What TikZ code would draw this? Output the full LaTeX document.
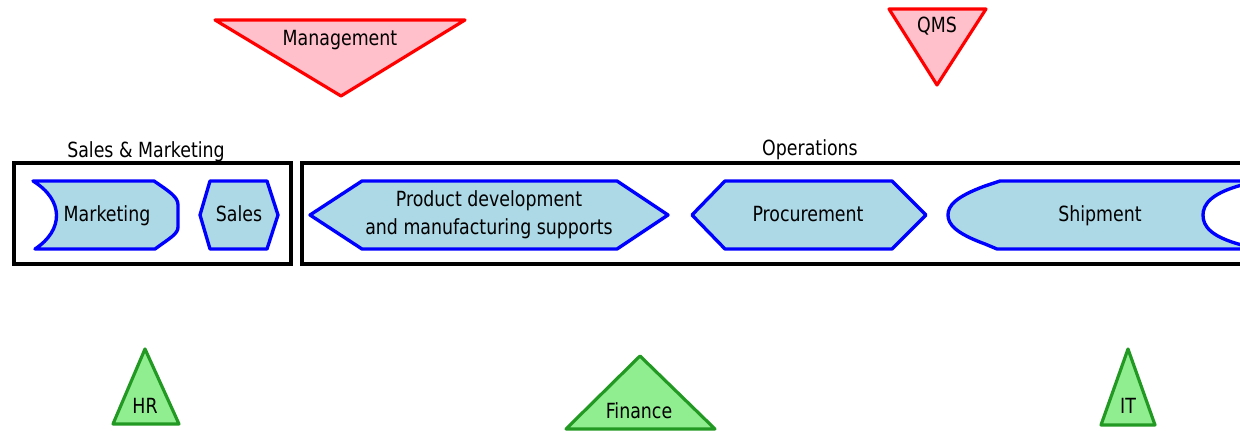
\documentclass[tikz,border=0pt]{standalone}
\usepackage{fontspec}
\setmainfont{DejaVu Sans Condensed}
\definecolor{procfill}{HTML}{ADD8E6}
\definecolor{ctrlfill}{HTML}{FFC0CB}
\definecolor{suppfill}{HTML}{90EE90}
\definecolor{suppline}{HTML}{229922}
\tikzstyle{proc}=[draw=blue, fill=procfill, line width=1.9pt, line join=round]
\tikzstyle{ctrl}=[draw=red, fill=ctrlfill, line width=1.8pt, line join=round]
\tikzstyle{supp}=[draw=suppline, fill=suppfill, line width=1.8pt, line join=round]
\tikzstyle{grp}=[draw=black, line width=2.7pt]
\tikzstyle{lbl}=[font=\fontsize{11}{15}\selectfont, align=center, inner sep=0pt, yscale=1.08]

\begin{document}
\begin{tikzpicture}[x=0.02cm, y=-0.02cm]
    \clip (0,0) rectangle (1240,431);
    \fill[white] (0,0) rectangle (1240,431);

    % control triangles
    \draw[ctrl] (215,20) -- (465,20) -- (341,96) -- cycle;
    \node[lbl, anchor=base] (mgmt) at (340,46) {Management};
    \draw[ctrl] (889,9) -- (986,9) -- (937,85) -- cycle;
    \node[lbl, anchor=base] (qms) at (937,33) {QMS};

    % groups
    \draw[grp] (14,163) rectangle (291,264);
    \node[lbl, anchor=base] (salesmkt) at (146,158) {Sales \& Marketing};
    \draw[grp] (302,163) rectangle (1270,264);
    \node[lbl, anchor=base] (ops) at (810,156) {Operations};

    % process steps
    \draw[proc] (33,181) -- (154,181) .. controls (170,192) and (178,197) .. (178,205) -- (178,227)
        .. controls (178,234) and (170,238) .. (155,249) -- (35,249)
        .. controls (64,230) and (64,200) .. (33,181) -- cycle;
    \node[lbl, anchor=base] (mkt) at (107,222) {Marketing};
    \draw[proc] (210,181) -- (267,181) -- (278,215) -- (267,249) -- (210,249) -- (200,215) -- cycle;
    \node[lbl, anchor=base] (sales) at (239,222) {Sales};
    \draw[proc] (362,181) -- (617,181) -- (668,215) -- (617,249) -- (362,249) -- (310,215) -- cycle;
    \node[lbl] (dev) at (489,215) {Product development\\and manufacturing supports};
    \draw[proc] (725,181) -- (892,181) -- (926,215) -- (892,249) -- (725,249) -- (692,215) -- cycle;
    \node[lbl, anchor=base] (proc) at (808,222) {Procurement};
    \draw[proc] (1000,181) -- (1260,181) -- (1260,183) -- (1250,183)
        .. controls (1210,192) and (1203,205) .. (1203,215)
        .. controls (1203,226) and (1210,238) .. (1250,247) -- (1260,247) -- (1260,249) -- (997,249)
        -- (985,244) .. controls (955,233) and (948,224) .. (948,215)
        .. controls (948,206) and (955,197) .. (985,186) -- cycle;
    \node[lbl, anchor=base] (ship) at (1100,222) {Shipment};

    % support triangles
    \draw[supp] (145,349) -- (179,424) -- (113,424) -- cycle;
    \node[lbl, anchor=base] (hr) at (145,414) {HR};
    \draw[supp] (640,356) -- (715,429) -- (566,429) -- cycle;
    \node[lbl, anchor=base] (fin) at (639,419) {Finance};
    \draw[supp] (1128,349) -- (1155,425) -- (1101,425) -- cycle;
    \node[lbl, anchor=base] (it) at (1128,414) {IT};
\end{tikzpicture}
\end{document}
